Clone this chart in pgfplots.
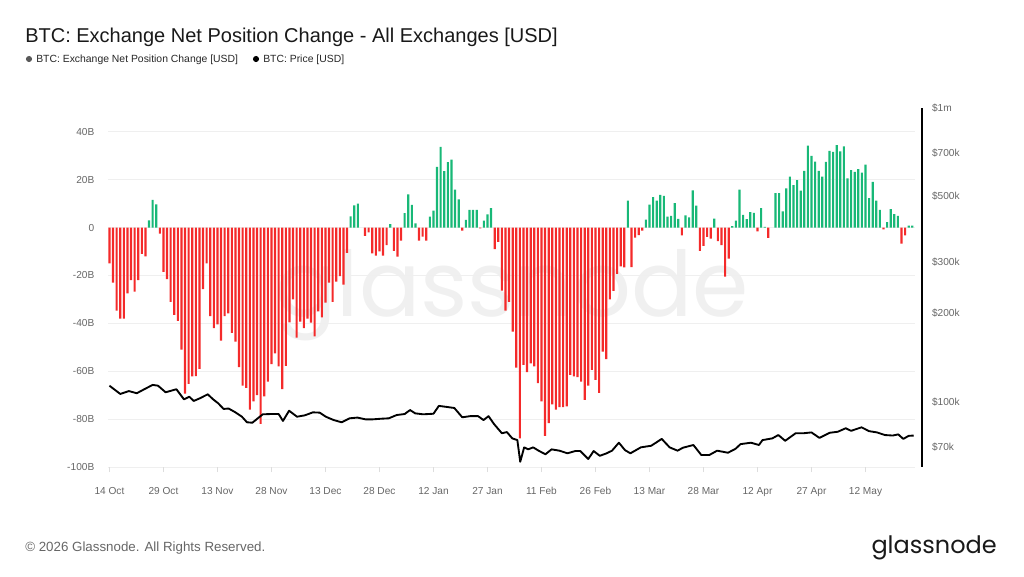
\documentclass[border=0pt]{standalone}
\usepackage{fontspec}
\setmainfont{Liberation Sans}
\newfontfamily\poppins{Poppins}
\usepackage{pgfplots}
\pgfplotsset{compat=1.18}
\definecolor{negred}{HTML}{F42A2A}
\definecolor{posgreen}{HTML}{18B877}
\definecolor{ticktext}{HTML}{666666}
\definecolor{gridc}{HTML}{EFEFEF}
\definecolor{tickc}{HTML}{DDDDDD}
\begin{document}
\begin{tikzpicture}
\useasboundingbox (0,0) rectangle (768pt,-432pt);
\begin{scope}[x=0.75pt,y=-0.75pt]
\node[anchor=base, text=black!6, font=\poppins\fontsize{68}{68}\selectfont, inner sep=0] at (512,316) {glassnode};
\node[anchor=base west, inner sep=0, font=\fontsize{15}{17}\selectfont, text=black!90] at (25,42) {BTC: Exchange Net Position Change - All Exchanges [USD]};
\fill[black!65] (29,59) circle (2.3pt);
\node[anchor=base west, inner sep=0, font=\fontsize{7.8}{9}\selectfont, text=black!85] at (36,62.5) {BTC: Exchange Net Position Change [USD]};
\fill[black] (256,59) circle (2.3pt);
\node[anchor=base west, inner sep=0, font=\fontsize{7.8}{9}\selectfont, text=black!85] at (263,62.5) {BTC: Price [USD]};
\node[anchor=base west, inner sep=0, font=\fontsize{10}{12}\selectfont, text=ticktext] at (25,551) {\textcopyright{} 2026 Glassnode. All Rights Reserved.};
\node[anchor=base east, inner sep=0, font=\poppins\fontsize{18}{20}\selectfont, text=black!90] at (997,553) {glassnode};
\end{scope}

\begin{axis}[
  at={(81pt,-350.25pt)}, anchor=south west,
  scale only axis, width=605.25pt, height=269.25pt,
  xmin=-0.4, xmax=223.75, ymin=-100, ymax=49.9,
  axis line style={draw=none},
  ymajorgrids, grid style={draw=gridc, line width=0.75pt},
  ytick={-100,-80,-60,-40,-20,0,20,40},
  yticklabels={-100B,-80B,-60B,-40B,-20B,0,20B,40B},
  xtick={0,15,...,210},
  xticklabels={14 Oct,29 Oct,13 Nov,28 Nov,13 Dec,28 Dec,12 Jan,27 Jan,11 Feb,26 Feb,13 Mar,28 Mar,12 Apr,27 Apr,12 May},
  tick pos=left,
  ytick style={draw=none},
  xtick style={draw=tickc, line width=0.75pt},
  tick align=outside, major tick length=3.75pt,
  ticklabel style={font=\fontsize{7.6}{9}\selectfont, text=ticktext},
  yticklabel style={xshift=-3pt},
  xticklabel style={anchor=north, text height=1.6ex, text depth=0.4ex, yshift=-5pt},
  clip=false,
]
\addplot[ybar, bar shift=0pt, bar width=0.6, fill=negred, draw=none] coordinates {
(0,-15) (1,-23) (2,-34.7) (3,-38) (4,-38) (5,-27.5) (6,-22) (7,-26.8) (8,-22) (9,-11) (10,-12)
(14,-2.5) (15,-18.5) (16,-21.5) (17,-31) (18,-36.5) (19,-39) (20,-51) (21,-69.4) (22,-65.3) (23,-62.2) (24,-62) (25,-59) (26,-25.7) (27,-15) (28,-37) (29,-42) (30,-40.4) (31,-47.2) (32,-37) (33,-35.8) (34,-44) (35,-47.6) (36,-58.3) (37,-66) (38,-67) (39,-76) (40,-72.6) (41,-70) (42,-82) (43,-70.5) (44,-64.3) (45,-57) (46,-52.5) (47,-58) (48,-67.5) (49,-57.8) (50,-39.6) (51,-30) (52,-46) (53,-39.3) (54,-42) (55,-38) (56,-39.7) (57,-45.5) (58,-35) (59,-37.5) (60,-31.4) (61,-23) (62,-31) (63,-22.6) (64,-20.3) (65,-23.8) (66,-10.6)
(71,-3.5) (72,-2) (73,-10.8) (74,-11.7) (75,-10) (76,-11.7) (77,-7.4) (79,-9.8) (80,-12.2) (81,-5.5) (86,-5.5) (87,-3.8) (88,-5.5) (98,-1.3) (103,-0.4) (107,-9) (108,-6)
(109,-26.4) (110,-34.7) (111,-31) (112,-43.5) (113,-58.5) (114,-88) (115,-57.4) (116,-60.4) (117,-56.7) (118,-58) (119,-65) (120,-72.6) (121,-87) (122,-81.7) (123,-73.8) (124,-76) (125,-75) (126,-75) (127,-74.7) (128,-61.5) (129,-62.2) (130,-62.5) (131,-64.3) (132,-72) (133,-66) (134,-59.4) (135,-63.6) (136,-69) (137,-51.8) (138,-55) (139,-30) (140,-26.5) (141,-19.4) (142,-16.2) (143,-16.6)
(145,-16.5) (146,-4.2) (147,-3.2) (148,-1.3) (159,-3.3) (164,-9.8) (165,-7.7) (166,-3.9) (167,-4.6) (169,-5.7) (170,-7.4) (171,-20.5) (172,-13) (180,-1.6) (183,-4.3) (215,-0.8) (220,-6.7) (221,-3.3)
};
\addplot[ybar, bar shift=0pt, bar width=0.6, fill=posgreen, draw=none] coordinates {
(11,3) (12,11.5) (13,9.7) (67,4.6) (68,9.2) (69,10) (78,1.4) (82,6) (83,13.8) (84,9.5) (85,1.7) (89,4.5) (90,7) (91,25.3) (92,33.7) (93,23.5) (94,27.3) (95,28.3) (96,15.8) (97,11.7) (99,3.2) (100,7.4) (101,7.4) (102,7.4) (104,2.9) (105,5.5) (106,8.1)
(144,11.2) (149,3.3) (150,9.6) (151,12.7) (152,11.2) (153,13.6) (154,13.2) (155,4.5) (156,4.9) (157,10.2) (158,3.6) (160,5.1) (161,4.2) (162,15.5) (163,9.1) (168,3.7) (173,0.6) (174,2.9) (175,15.8) (176,5.3) (177,3.5) (178,6.4) (179,6.1) (181,8.1) (182,0.3)
(185,14.4) (186,14.4) (187,6.7) (188,16.3) (189,21.2) (190,17.7) (191,19.8) (192,15.4) (193,23.7) (194,34.2) (195,29.9) (196,27.5) (197,23.7) (198,21.2) (199,27.4) (200,32) (201,31.6) (202,34.4) (203,31.8) (204,33.9) (205,20.5) (206,24) (207,23.2) (208,24.4) (209,22.9) (210,26.3) (211,12.3) (212,19.1) (213,11.2) (214,7.4) (216,2.3) (217,7.7) (218,5.6) (219,4.9) (222,0.8) (223,0.8)
};
\end{axis}

\begin{axis}[
  at={(81pt,-350.25pt)}, anchor=south west,
  scale only axis, width=610.5pt, height=269.25pt,
  xmin=-0.4, xmax=225.7, ymode=log, ymin=60100, ymax=1000000,
  axis x line=none, axis y line*=right,
  y axis line style={draw=black, line width=1.2pt, -},
  ytick={70000,100000,200000,300000,500000,700000,1000000},
  yticklabels={\$70k,\$100k,\$200k,\$300k,\$500k,\$700k,\$1m},
  yminorticks=false, ytick style={draw=none}, major tick length=0pt,
  yticklabel style={font=\fontsize{7.6}{9}\selectfont, text=ticktext, anchor=west, xshift=4pt},
]
\addplot[black, line width=1.4pt, line join=round] coordinates {
(0,113600) (3,106500) (5.4,108900) (7.6,107100) (9.8,110700) (12,114300) (13.5,113600) (15.6,107900) (18.6,110500) (20.7,102100) (22.2,104200) (23.4,100800) (25.1,102900) (27.3,106200) (28.8,102100) (30.2,99000) (31.7,94700) (33.1,95000) (35,92200) (36.8,89100) (38.2,85300) (39.7,85000) (41.2,88000) (42.6,90800) (44.8,91000) (47,91000) (48.2,86200) (49.9,93400) (52.1,89100) (54.3,90100) (56.5,92200) (58.4,92000) (60.1,89100) (62.3,86800) (64.5,85300) (66.7,88000) (68.9,88500) (71.1,87300) (73.2,87300) (75.4,87700) (77.6,88000) (79.8,90300) (82,91000) (83.5,93900) (84.9,91500) (87.1,90800) (90,91200) (91.5,97000) (93.7,96200) (95.8,95400) (98,88700) (100.2,89500) (102.4,89500) (103.9,86800) (105.3,89500) (106.8,84200) (109,78300) (110.4,79000) (111.9,75200) (113.3,74200) (114.1,62600) (115.2,70100) (116.3,69000) (117.7,70100) (119.2,68300) (121.1,66400) (122.8,69000) (125,68300) (127.2,66900) (129.4,68100) (130.8,68100) (133,64000) (134.5,68100) (136.2,65600) (138.1,66900) (139.6,68300) (141.5,72700) (143.2,68600) (144.7,66900) (147.6,70100) (150.5,71000) (153.4,74900) (155.6,70100) (157.8,68300) (159.3,69900) (162.2,71400) (164.4,66000) (166.6,66000) (168.8,68300) (171.8,67200) (173.9,69300) (175.3,71900) (178.2,72700) (180.4,71400) (181.4,74200) (184.1,75200) (185.8,77200) (187.7,73800) (190.6,78300) (192.8,78300) (195,78800) (197.2,75500) (200.1,78600) (202.3,79200) (204.5,81400) (206,79800) (208.9,82000) (211,79600) (213.2,78800) (215.4,77200) (217.6,76900) (219.1,77600) (220.5,74900) (222,76700) (223.4,76900)
};
\end{axis}
\end{tikzpicture}
\end{document}
